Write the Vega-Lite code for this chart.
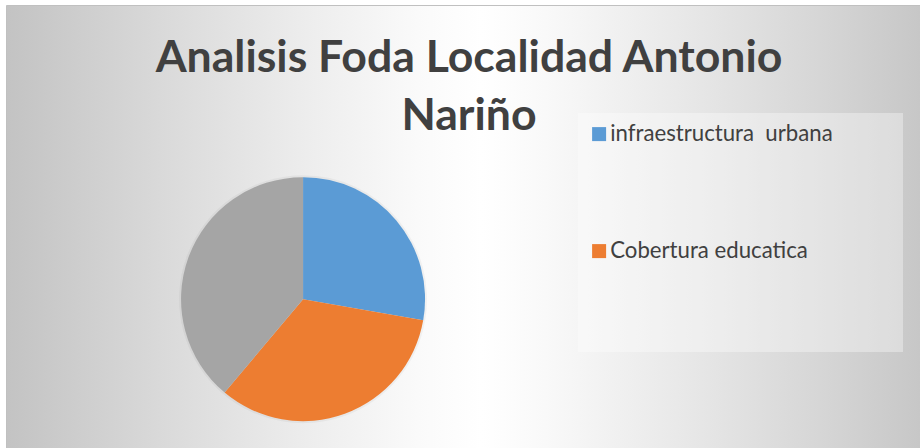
{
  "$schema": "https://vega.github.io/schema/vega-lite/v6.json",
  "width": 920,
  "height": 448,
  "autosize": {"type": "fit", "contains": "padding"},
  "padding": {"left": 6, "top": 5, "right": 0, "bottom": 0},
  "background": "#ffffff",
  "title": {
    "text": ["Analisis Foda Localidad Antonio", "Nariño"],
    "font": "Lato",
    "fontSize": 44.6,
    "fontWeight": "bold",
    "color": "#404040",
    "lineHeight": 58,
    "baseline": "alphabetic",
    "offset": -170,
    "dx": 6,
    "anchor": "middle",
    "frame": "group"
  },
  "view": {
    "fill": {
      "gradient": "linear",
      "x1": 0, "y1": 0.5, "x2": 1, "y2": 0.5,
      "stops": [
        {"offset": 0, "color": "#c3c3c3"},
        {"offset": 0.19, "color": "#dcdcdc"},
        {"offset": 0.32, "color": "#ececec"},
        {"offset": 0.45, "color": "#fafafa"},
        {"offset": 0.52, "color": "#ffffff"},
        {"offset": 0.6, "color": "#f8f8f8"},
        {"offset": 0.76, "color": "#e6e6e6"},
        {"offset": 0.89, "color": "#d6d6d6"},
        {"offset": 1, "color": "#c7c7c7"}
      ]
    },
    "stroke": "#c0c0c0",
    "strokeWidth": 1
  },
  "data": {
    "values": [
      {"categoria": "infraestructura  urbana", "valor": 5, "orden": 1},
      {"categoria": "Cobertura educatica", "valor": 6, "orden": 2},
      {"categoria": "Seguridad", "valor": 7, "orden": 3}
    ]
  },
  "layer": [
    {
      "mark": {
        "type": "arc",
        "outerRadius": 124,
        "x": {"expr": "width * 0.325"},
        "y": {"expr": "height * 0.664"},
        "color": "#000000",
        "opacity": 0.04,
        "strokeWidth": 0
      },
      "encoding": {
        "theta": {"field": "valor", "type": "quantitative", "stack": true},
        "order": {"field": "orden", "type": "quantitative"}
      }
    },
    {
      "mark": {
        "type": "arc",
        "outerRadius": 122,
        "x": {"expr": "width * 0.325"},
        "y": {"expr": "height * 0.664"},
        "strokeWidth": 0
      },
      "encoding": {
        "theta": {"field": "valor", "type": "quantitative", "stack": true},
        "order": {"field": "orden", "type": "quantitative"},
        "color": {
          "field": "categoria",
          "type": "nominal",
          "scale": {
            "domain": ["infraestructura  urbana", "Cobertura educatica", "Seguridad"],
            "range": ["#5B9BD5", "#ED7D31", "#A5A5A5"]
          },
          "legend": {
            "orient": "none",
            "legendX": 572,
            "legendY": 108,
            "values": ["infraestructura  urbana", "Cobertura educatica"],
            "labelExpr": "replace(datum.label, '  ', '\u00a0 ')",
            "title": "\u200b\u00a0\u00a0\u00a0\u00a0\u00a0\u00a0\u00a0\u00a0\u00a0\u00a0\u00a0\u00a0\u00a0\u00a0\u00a0\u00a0\u00a0\u00a0\u00a0\u00a0\u00a0\u00a0\u00a0\u00a0\u00a0\u00a0\u00a0\u00a0\u00a0\u00a0\u00a0\u00a0\u00a0\u00a0\u00a0\u00a0\u00a0\u00a0\u00a0\u00a0\u00a0\u00a0\u00a0\u00a0\u00a0\u00a0\u00a0\u00a0\u00a0\u00a0\u00a0\u00a0\u00a0\u00a0\u00a0\u00a0\u00a0\u00a0\u00a0\u00a0\u00a0\u00a0\u00a0\u00a0\u00a0\u00a0\u00a0\u00a0\u00a0\u00a0\u00a0\u00a0\u00a0\u200b",
            "titleOrient": "bottom",
            "titleFont": "DejaVu Sans",
            "titleFontSize": 12,
            "titleLimit": 1000,
            "titlePadding": 69,
            "titleOpacity": 0,
            "symbolType": "square",
            "symbolSize": 196,
            "symbolStrokeWidth": 0,
            "labelFont": "Lato",
            "labelFontSize": 22.2,
            "labelLimit": 1000,
            "labelColor": "#404040",
            "labelOffset": 0,
            "rowPadding": 94,
            "padding": 10,
            "fillColor": "rgba(255,255,255,0.35)",
            "strokeColor": null
          }
        }
      }
    }
  ]
}
